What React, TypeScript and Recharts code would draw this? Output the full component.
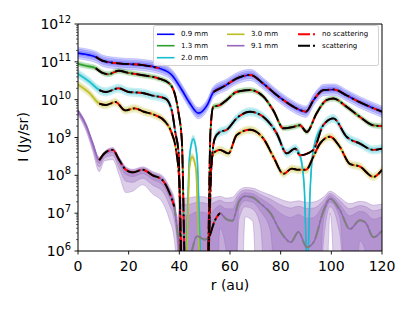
import { ComposedChart, Area, Line, XAxis, YAxis } from "recharts";

// r (au) and median intensity I (Jy/sr)
const r09 = [0, 3, 7, 10, 16, 25, 32, 37, 41, 44, 47.5, 51, 53.5, 58.5, 62.5, 68, 73, 78, 84, 88, 90, 93, 97, 101, 106, 111, 117, 120];
const i09 = [1.7e11, 1.58e11, 1.35e11, 1.05e11, 9.1e10, 8.3e10, 6.8e10, 4.5e10, 1.8e10, 8.3e9, 4.4e9, 7.2e9, 1.6e10, 2.45e10, 3.6e10, 4.5e10, 2.7e10, 1.4e10, 7.2e9, 5.2e9, 4.8e9, 9.8e9, 1.8e10, 1.85e10, 1.3e10, 8.7e9, 5.8e9, 4.8e9];

const r13 = [0, 3, 7, 10, 12, 16, 20, 25, 32, 36, 38.5, 39.7, 41, 42.5, 51, 52.3, 53.4, 56, 58.7, 62.6, 67.9, 73.2, 77.1, 81.1, 85, 87.6, 90.3, 94.2, 98.2, 100.8, 106, 111.3, 116.6, 120];
const i13 = [8.9e10, 7.9e10, 6.8e10, 5.0e10, 4.7e10, 5.8e10, 5.1e10, 4.5e10, 3.6e10, 2.7e10, 1.2e10, 4.4e9, 8e8, 1e5, 1e5, 1.5e9, 6.5e9, 7.2e9, 9.8e9, 1.6e10, 1.8e10, 1.2e10, 5.2e9, 1.75e9, 1.9e9, 2.1e9, 1.4e9, 4.4e9, 9.8e9, 1.07e10, 6.5e9, 3.5e9, 2.1e9, 2.0e9];

const r20 = [0, 4.5, 8.4, 11, 16, 20, 25.5, 29, 34.5, 37, 38.5, 39.7, 41, 42.8, 44, 45.5, 47, 48.3, 49.5, 51, 52.6, 54, 56, 58.7, 62.6, 67.9, 73.2, 78.4, 82.4, 85.7, 87.6, 89.3, 90.5, 91.7, 92.9, 96.8, 100.8, 106, 111.3, 116.6, 120];
const i20 = [4.8e10, 3.0e10, 1.8e10, 1.6e10, 2.0e10, 1.6e10, 1.5e10, 1.3e10, 1.07e10, 5.2e9, 1.26e9, 4e8, 1e5, 1e6, 3e8, 9e8, 3e8, 1e6, 1e5, 1e5, 1.4e8, 9.5e8, 1.4e9, 1.6e9, 3.2e9, 4.8e9, 3.5e9, 1.3e9, 3.8e8, 5.1e8, 3.4e8, 5e7, 3e5, 5e7, 4.7e8, 2.1e9, 3.2e9, 1.05e9, 6.9e8, 4.7e8, 5.1e8];

const r30 = [0, 4.5, 8.4, 11, 14.8, 18.6, 22.4, 26, 30, 34.5, 37, 38.5, 40, 41.2, 43, 44, 45, 46.5, 47.8, 49, 51, 52.3, 53.4, 56, 59.4, 62.6, 67.9, 73.2, 77.1, 81.1, 84.4, 87, 90, 92.9, 95.5, 99.5, 103.4, 107.3, 111.3, 116.6, 120];
const i30 = [2.5e10, 1.5e10, 7.9e9, 7.2e9, 8.7e9, 5.2e9, 5.9e9, 4.8e9, 4.0e9, 2.6e9, 1.3e9, 5.6e8, 6.3e7, 1e5, 1e6, 1.6e8, 3.1e8, 1.6e8, 1e6, 1e5, 1e5, 1e8, 3.8e8, 4.7e8, 3.8e8, 1.15e9, 1.6e9, 9.3e8, 3.1e8, 1.1e8, 1.5e8, 1.4e8, 1.4e8, 3.1e8, 6.9e8, 1.05e9, 5.6e8, 2.0e8, 1.7e8, 9.1e7, 1.4e8];

const r91 = [0, 3.2, 5.8, 8.4, 10.4, 13.7, 16.3, 18.9, 21.6, 25.5, 29.5, 33.4, 36, 38, 39.3, 40.5, 42, 44, 47, 50, 52, 54, 56, 58.5, 61, 63.5, 66, 69, 72, 76, 80, 84, 87, 90.3, 93, 97, 99.5, 103.4, 107.3, 111.3, 113.5, 116.6, 120];
const i91 = [5.0e9, 2.1e9, 6.9e8, 2.5e8, 3.8e8, 4.7e8, 2.5e8, 1.4e8, 1.2e8, 1.4e8, 1.0e8, 7.4e7, 3.6e7, 1.5e7, 3e6, 6e5, 3e5, 6e5, 2.5e6, 2e6, 2.5e6, 6.3e6, 1e7, 7e6, 6.3e6, 2e7, 2.8e7, 2.6e7, 1.8e7, 1e7, 3.2e6, 1.7e6, 3.2e6, 1.26e6, 1.7e6, 1.2e7, 2.4e7, 1.2e7, 3.8e6, 6.5e6, 5.6e6, 2.3e6, 3.5e6];
// 9.1 mm outer envelope, linear distance above / below the median (Jy/sr)
const hi91 = [6.1e8, 2.6e8, 1.0e8, 5e7, 4.6e7, 7e7, 5e7, 2.8e7, 2.4e7, 2.8e7, 2.6e7, 2.3e7, 1.5e7, 9e6, 4.5e6, 2.5e7, 2.5e7, 2.5e7, 2.5e7, 2.5e7, 2.2e7, 2e7, 1.8e7, 1.8e7, 2e7, 2e7, 2e7, 2e7, 2e7, 2e7, 2e7, 1.8e7, 1.8e7, 1.8e7, 1.8e7, 1.5e7, 1.4e7, 1.4e7, 1.4e7, 1.4e7, 1.4e7, 1.4e7, 1.4e7];
const lo91 = [1.03e9, 6.1e8, 2.5e8, 1.25e8, 1.4e8, 2.1e8, 1.5e8, 1.05e8, 8.2e7, 8.4e7, 6.8e7, 5.5e7, 2.9e7, 1.3e7, 2.9e6, 2.5e7, 2.5e7, 2.5e7, 2.5e7, 2.5e7, 2.2e7, 2e7, 1.8e7, 1.8e7, 2e7, 2e7, 2e7, 2e7, 2e7, 2e7, 2e7, 1.8e7, 1.8e7, 1.8e7, 1.8e7, 1.5e7, 1.4e7, 1.4e7, 1.4e7, 1.4e7, 1.4e7, 1.4e7, 1.4e7];

// half width (dex) of the shaded band of the other wavelengths
const spread09 = 0.15;
const spread13 = 0.07;
const spread20 = 0.11;
const spread30 = 0.1;

// r ranges (au) where the model curves leave the median
const skip20 = [[42.5, 48.5], [89, 92]];
const skip30 = [[42.5, 48.5]];
const cut09 = [[33, 52]];
const cut91 = [[38.6, 51.9], [56.1, 121]];

const xTicks = [0, 20, 40, 60, 80, 100, 120];
const yMajor = [1e6, 1e7, 1e8, 1e9, 1e10, 1e11, 1e12];
const yMinor = yMajor.slice(0, -1).flatMap((m) => [2, 3, 4, 5, 6, 7, 8, 9].map((k) => k * m));

const PL = 78, PR = 382, PT = 24, PB = 251;
const FONT = "DejaVu Sans, sans-serif";
const DASHDOT = "13 3.3 2 3.3";
const FLOOR = 1e2;

type S = {
  id: string; r: number[]; v: number[]; hi: number[]; lo: number[];
  color: string; op: number; skip: number[][]; cut: number[][];
};
// dex spread -> linear envelope around each median value
const dexHi = (v: number[], s: number) => v.map((x) => x * (10 ** s - 1));
const dexLo = (v: number[], s: number) => v.map((x) => x * (1 - 10 ** -s));
const series: S[] = [
  { id: "09", r: r09, v: i09, hi: dexHi(i09, spread09), lo: dexLo(i09, spread09), color: "#0000ff", op: 0.16, skip: [], cut: cut09 },
  { id: "13", r: r13, v: i13, hi: dexHi(i13, spread13), lo: dexLo(i13, spread13), color: "#2ca02c", op: 0.16, skip: [], cut: [] },
  { id: "20", r: r20, v: i20, hi: dexHi(i20, spread20), lo: dexLo(i20, spread20), color: "#17becf", op: 0.16, skip: skip20, cut: [] },
  { id: "30", r: r30, v: i30, hi: dexHi(i30, spread30), lo: dexLo(i30, spread30), color: "#bcbd22", op: 0.16, skip: skip30, cut: [] },
  { id: "91", r: r91, v: i91, hi: hi91, lo: lo91, color: "#9467bd", op: 0.33, skip: [], cut: cut91 },
];

const inAny = (x: number, rs: number[][]) => rs.some(([a, b]) => x > a && x < b);
const band = (s: S, k: number) =>
  s.r.map((x, i) => ({ r: x, b: [Math.max(FLOOR, s.v[i] - k * s.lo[i]), s.v[i] + k * s.hi[i]] }));
const pts = (s: S) => s.r.map((x, i) => ({ r: x, v: s.v[i] as number | null }));
// model curves start near 8 au
const model = (s: S) =>
  pts(s)
    .filter((p) => p.r >= 7 && !inAny(p.r, s.skip))
    .map((p) => ({ r: p.r, v: inAny(p.r, s.cut) ? null : p.v }));

const YTick = (props: any) => {
  const { y, payload } = props;
  const major = yMajor.includes(payload.value);
  const e = Math.round(Math.log10(payload.value));
  return (
    <g>
      <line x1={PL - (major ? 3.5 : 2)} x2={PL} y1={y} y2={y} stroke="#000" strokeWidth={major ? 0.9 : 0.6} />
      {major && (
        <text x={PL - 7} y={y + 5} textAnchor="end" fontSize={14} fontFamily={FONT} fill="#000">
          10
          <tspan dy={-6} fontSize={10}>{e}</tspan>
        </text>
      )}
    </g>
  );
};

const XTick = (props: any) => {
  const { x, payload } = props;
  return (
    <g>
      <line x1={x} x2={x} y1={PB} y2={PB + 3.5} stroke="#000" strokeWidth={0.9} />
      <text x={x} y={PB + 19.5} textAnchor="middle" fontSize={14} fontFamily={FONT} fill="#000">
        {payload.value}
      </text>
    </g>
  );
};

const legendItems = [
  { label: "0.9 mm", color: "#0000ff", x: 157, y: 34.3 },
  { label: "1.3 mm", color: "#2ca02c", x: 157, y: 45.7 },
  { label: "2.0 mm", color: "#17becf", x: 157, y: 57.7 },
  { label: "3.0 mm", color: "#bcbd22", x: 227, y: 34.3 },
  { label: "9.1 mm", color: "#9467bd", x: 227, y: 45.7 },
  { label: "no scattering", color: "#ff0000", x: 298, y: 34.3, dash: true },
  { label: "scattering", color: "#000000", x: 298, y: 45.7, dash: true },
];

export default function App() {
  const p91 = series[4];
  return (
    <div style={{ position: "absolute", left: 0, top: 0, width: 415, height: 311, background: "#fff" }}>
      <ComposedChart width={415} height={311} margin={{ top: PT, right: 415 - PR, bottom: 0, left: 0 }}>
        <XAxis
          type="number"
          dataKey="r"
          domain={[0, 120]}
          ticks={xTicks}
          allowDataOverflow
          height={311 - PB}
          axisLine={{ stroke: "#000", strokeWidth: 1 }}
          tickLine={false}
          tick={<XTick />}
          interval={0}
        />
        <YAxis
          type="number"
          scale="log"
          domain={[1e6, 1e12]}
          ticks={[...yMajor, ...yMinor]}
          allowDataOverflow
          width={PL}
          axisLine={{ stroke: "#000", strokeWidth: 1 }}
          tickLine={false}
          tick={<YTick />}
          interval={0}
        />
        {series.flatMap((s) => [
          ...[1, 2 / 3, 1 / 3].map((k) => (
            <Area
              key={`b${s.id}${k}`}
              data={band(s, k)}
              dataKey="b"
              type="monotone"
              stroke={s.color}
              strokeOpacity={s.op}
              strokeWidth={1}
              fill={s.color}
              fillOpacity={s.op}
              isAnimationActive={false}
              activeDot={false}
            />
          )),
          <Line
            key={`l${s.id}`}
            data={pts(s)}
            dataKey="v"
            type="monotone"
            stroke={s.color}
            strokeWidth={1.6}
            dot={false}
            activeDot={false}
            isAnimationActive={false}
          />,
        ])}
        <Line
          data={pts(p91).filter((p) => p.r >= 8)}
          dataKey="v"
          type="monotone"
          stroke="#7f7f7f"
          strokeWidth={2}
          strokeDasharray={DASHDOT}
          dot={false}
          activeDot={false}
          isAnimationActive={false}
        />
        {series.map(model).flatMap((d, i) => [
          <Line
            key={`red${i}`}
            data={d}
            dataKey="v"
            type="monotone"
            stroke="#ff0000"
            strokeWidth={1.9}
            strokeDasharray={DASHDOT}
            strokeDashoffset={4}
            dot={false}
            activeDot={false}
            isAnimationActive={false}
          />,
          <Line
            key={`blk${i}`}
            data={d}
            dataKey="v"
            type="monotone"
            stroke="#000000"
            strokeWidth={1.9}
            strokeDasharray={DASHDOT}
            dot={false}
            activeDot={false}
            isAnimationActive={false}
          />,
        ])}
      </ComposedChart>
      <svg width={415} height={311} style={{ position: "absolute", left: 0, top: 0, pointerEvents: "none" }}>
        <line x1={PL} x2={PR} y1={PT} y2={PT} stroke="#000" strokeWidth={1} />
        <line x1={PR} x2={PR} y1={PT} y2={PB} stroke="#000" strokeWidth={1} />
        <text x={(PL + PR) / 2} y={290} textAnchor="middle" fontSize={14} fontFamily={FONT} fill="#000">
          r (au)
        </text>
        <text
          x={23}
          y={137}
          transform="rotate(-90 23 137)"
          textAnchor="middle"
          dominantBaseline="central"
          fontSize={14}
          fontFamily={FONT}
          fill="#000"
        >
          I (Jy/sr)
        </text>
        <rect x={153.5} y={25.5} width={225} height={40} rx={2} fill="#fff" fillOpacity={0.8} stroke="#d0d0d0" strokeWidth={1} />
        {legendItems.map((it) => (
          <g key={it.label}>
            <line
              x1={it.x}
              x2={it.x + 17.5}
              y1={it.y}
              y2={it.y}
              stroke={it.color}
              strokeWidth={it.dash ? 2 : 1.6}
              strokeDasharray={it.dash ? "12 3 2 4" : undefined}
            />
            <text x={it.x + 24} y={it.y} dominantBaseline="central" fontSize={7} fontFamily={FONT} fill="#000">
              {it.label}
            </text>
          </g>
        ))}
      </svg>
    </div>
  );
}
